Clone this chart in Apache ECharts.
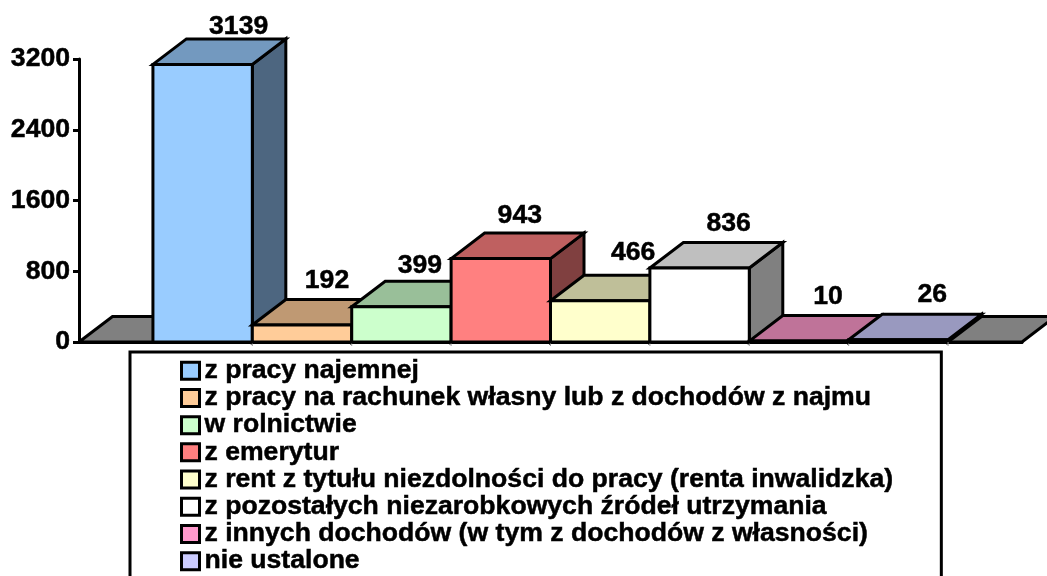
<!DOCTYPE html>
<html>
<head>
<meta charset="utf-8">
<style>html,body{margin:0;padding:0;background:#fff}#chart{width:1047px;height:576px}</style>
<script src="https://cdn.jsdelivr.net/npm/echarts@6/dist/echarts.min.js"></script>
</head>
<body>
<div id="chart"></div>
<script>
// dane
const names = [
  'z pracy najemnej',
  'z pracy na rachunek własny lub z dochodów z najmu',
  'w rolnictwie',
  'z emerytur',
  'z rent z tytułu niezdolności do pracy (renta inwalidzka)',
  'z pozostałych niezarobkowych źródeł utrzymania',
  'z innych dochodów (w tym z dochodów z własności)',
  'nie ustalone'
];
const values = [3139, 192, 399, 943, 466, 836, 10, 26];
const yTicks = [0, 800, 1600, 2400, 3200];

// kolory: przód, góra, bok
const frontColors = ['#99CCFF', '#FFCC99', '#CCFFCC', '#FF8080', '#FFFFCC', '#FFFFFF', '#FF99CC', '#CCCCFF'];
const topColors = ['#7399BF', '#BF9973', '#99BF99', '#BF6060', '#BFBF99', '#BFBFBF', '#BF7399', '#9999BF'];
const sideColors = ['#4D6680', '#80664D', '#668066', '#804040', '#808066', '#808080', '#804D66', '#666680'];

// przesunięcia etykiet względem środka górnej krawędzi słupka
const labelDx = [36, 25, 18.5, 19, 33, 29, 29, 34];
const labelDy = [-38, -44, -41, -43, -48, -44, -44, -45];

const depthX = 33.5;
const depthY = -25.5;
const barShare = 0.1054;
const font = 'bold 26.6px "Liberation Sans", Arial, sans-serif';

function poly(points, fill) {
  return {
    type: 'polygon',
    shape: { points: points },
    style: { fill: fill, stroke: '#000', lineWidth: 3, lineJoin: 'miter' }
  };
}

function renderBar(i) {
  return function (params, api) {
    const top = api.coord([0, api.value(1)]);
    const base = api.coord([0, 0]);
    const w = api.size([1, 0])[0] * barShare;
    const x0 = top[0] + (i - 3.5) * w - w / 2;
    const x1 = x0 + w;
    const y0 = base[1];
    const y1 = top[1];
    return {
      type: 'group',
      children: [
        poly([[x1, y1], [x1 + depthX, y1 + depthY], [x1 + depthX, y0 + depthY], [x1, y0]], sideColors[i]),
        poly([[x0, y1], [x0 + depthX, y1 + depthY], [x1 + depthX, y1 + depthY], [x1, y1]], topColors[i]),
        poly([[x0, y1], [x1, y1], [x1, y0], [x0, y0]], frontColors[i]),
        { type: 'line', shape: { x1: x1, y1: y0, x2: x1, y2: y0 + 4 }, style: { stroke: '#999', lineWidth: 1 } },
        {
          type: 'text',
          style: {
            text: String(values[i]),
            x: (x0 + x1) / 2 + labelDx[i],
            y: y1 + labelDy[i],
            align: 'center',
            verticalAlign: 'middle',
            font: font,
            fill: '#000',
            stroke: '#000',
            lineWidth: 0.5
          }
        }
      ]
    };
  };
}

// podłoga wykresu
function renderFloor(params, api) {
  const a = api.coord([0, 0]);
  const w = api.size([1, 0])[0];
  const x0 = a[0] - w / 2;
  const x1 = a[0] + w / 2;
  return poly([[x0, a[1]], [x0 + depthX, a[1] + depthY], [x1 + depthX, a[1] + depthY], [x1, a[1]]], '#808080');
}

const series = [{
  name: 'floor',
  type: 'custom',
  silent: true,
  renderItem: renderFloor,
  data: [[0, 0]],
  z: 1
}];
names.forEach(function (name, i) {
  series.push({
    name: name,
    type: 'custom',
    renderItem: renderBar(i),
    itemStyle: { color: frontColors[i] },
    encode: { x: 0, y: 1 },
    data: [[0, values[i]]],
    z: 2
  });
});

const chart = echarts.init(document.getElementById('chart'), null, { renderer: 'canvas' });
chart.setOption({
  animation: false,
  backgroundColor: '#fff',
  grid: { left: 79, right: 25, top: 59, bottom: 234 },
  xAxis: {
    type: 'category',
    data: [''],
    axisLine: { lineStyle: { color: '#000', width: 3 } },
    axisTick: { length: 6, lineStyle: { color: '#000', width: 3 } },
    axisLabel: { show: false }
  },
  yAxis: {
    type: 'value',
    min: yTicks[0],
    max: yTicks[yTicks.length - 1],
    interval: 800,
    splitLine: { show: false },
    axisLine: { show: true, lineStyle: { color: '#000', width: 3 } },
    axisTick: { show: true, length: 6, lineStyle: { color: '#000', width: 3 } },
    axisLabel: {
      color: '#000',
      margin: 9,
      formatter: function (v) { return String(v); },
      fontFamily: 'Liberation Sans',
      fontWeight: 'bold',
      fontSize: 26.6,
      textBorderColor: '#000',
      textBorderWidth: 0.5
    }
  },
  legend: {
    data: names,
    orient: 'vertical',
    left: 130,
    top: 352,
    height: 320,
    padding: [5, 48, 30, 50],
    selectedMode: false,
    borderColor: '#000',
    borderWidth: 3,
    backgroundColor: '#fff',
    icon: 'rect',
    itemWidth: 18,
    itemHeight: 17,
    itemGap: -0.3,
    itemStyle: { borderColor: '#000', borderWidth: 3 },
    textStyle: {
      color: '#000',
      fontFamily: 'Liberation Sans',
      fontWeight: 'bold',
      fontSize: 26.6,
      textBorderColor: '#000',
      textBorderWidth: 0.5
    }
  },
  series: series
});
</script>
</body>
</html>
